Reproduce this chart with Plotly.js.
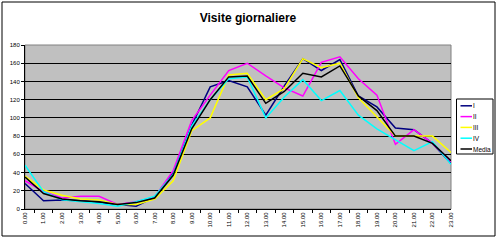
<!DOCTYPE html>
<html>
<head>
<meta charset="utf-8">
<script src="https://cdn.plot.ly/plotly-3.0.1.min.js"></script>
<style>html,body{margin:0;padding:0;background:#fff}#chart{width:500px;height:241px}</style>
</head>
<body>
<div id="chart"></div>
<script>
const hours = ["0.00","1.00","2.00","3.00","4.00","5.00","6.00","7.00","8.00","9.00","10.00","11.00","12.00","13.00","14.00","15.00","16.00","17.00","18.00","19.00","20.00","21.00","22.00","23.00"];
const seriesNames = ["I","II","III","IV","Media"];
const serieI  = [28, 9, 10, 9, 7, 5, 3, 13, 40, 92, 134, 141, 134, 103, 135, 165, 152, 164, 124, 112, 89, 87, 72, 50];
const serieII = [31, 19, 12, 14, 14, 5, 8, 13, 42, 97, 125, 152, 160, 146, 133, 124, 161, 167, 143, 125, 71, 87, 72, 52];
const serieIII= [36, 21, 15, 11, 10, 5, 5, 11, 31, 86, 100, 147, 149, 120, 132, 165, 155, 160, 122, 101, 80, 80, 80, 62];
const serieIV = [48, 19, 10, 8, 6, 3, 8, 14, 38, 91, 120, 143, 145, 100, 123, 142, 119, 130, 103, 88, 76, 64, 74, 49];
const media   = [35, 17, 11, 9, 8, 5, 7, 12, 37, 88, 120, 145, 146, 116, 129, 149, 145, 157, 124, 108, 80, 80, 72, 53];
const yTicks = [0,20,40,60,80,100,120,140,160,180];

const colors = ["#000080","#FF00FF","#FFFF00","#00FFFF","#000000"];
const allSeries = [serieI, serieII, serieIII, serieIV, media];

const traces = allSeries.map((s, i) => ({
  x: hours, y: s, name: seriesNames[i], type: "scatter", mode: "lines",
  line: {color: colors[i], width: 1.5}, showlegend: false
}));

// plot area geometry in px (for legend placement in paper coords)
const W = 500, H = 241, mL = 25, mR = 49, mT = 45, mB = 32;
const pw = W - mL - mR, ph = H - mT - mB;
const px2x = p => (p - mL) / pw;
const py2y = p => (H - mB - p) / ph;

const shapes = [
  {type: "rect", xref: "paper", yref: "paper", x0: px2x(2), x1: px2x(495), y0: py2y(236), y1: py2y(2),
   line: {color: "#000", width: 1}, fillcolor: "rgba(0,0,0,0)", layer: "below"},
  {type: "rect", xref: "paper", yref: "paper", x0: 0, x1: 1, y0: 0, y1: 1,
   line: {color: "#808080", width: 1}, fillcolor: "rgba(0,0,0,0)", layer: "below"},
  {type: "rect", xref: "paper", yref: "paper", x0: px2x(456.5), x1: px2x(493), y0: py2y(154), y1: py2y(99),
   line: {color: "#000", width: 1}, fillcolor: "#fff", layer: "above"}
];
const annotations = [];
seriesNames.forEach((n, i) => {
  const py = 105.8 + 10.8 * i;
  shapes.push({type: "line", xref: "paper", yref: "paper", x0: px2x(460.5), x1: px2x(472), y0: py2y(py), y1: py2y(py),
               line: {color: colors[i], width: 1.5}, layer: "above"});
  annotations.push({xref: "paper", yref: "paper", x: px2x(472.3), y: py2y(py), xanchor: "left", yanchor: "middle",
                    text: n, showarrow: false, borderpad: 0, font: {size: 6.5, color: "#000"}});
});

const layout = {
  width: W, height: H,
  margin: {l: mL, r: mR, t: mT, b: mB, pad: 0},
  paper_bgcolor: "#ffffff",
  plot_bgcolor: "#C0C0C0",
  font: {family: "Liberation Sans, Arial, sans-serif", size: 7, color: "#000"},
  title: {text: "<b>Visite giornaliere</b>", x: 0.496, xanchor: "center", y: 0.925, yanchor: "middle",
          font: {size: 12, family: "Liberation Sans, Arial, sans-serif", color: "#000"}},
  showlegend: false,
  xaxis: {type: "category", tickvals: hours, ticktext: hours, tickangle: -90,
          ticks: "outside", ticklen: 3, tickcolor: "#000", tickson: "boundaries",
          showline: true, linecolor: "#000", linewidth: 1, showgrid: false,
          tickfont: {size: 6}, fixedrange: true, automargin: false},
  yaxis: {range: [0, 180], tickvals: yTicks, ticks: "outside", ticklen: 3, tickcolor: "#000",
          showline: true, linecolor: "#000", linewidth: 1,
          showgrid: true, gridcolor: "#000", gridwidth: 1, zeroline: false,
          tickfont: {size: 6}, fixedrange: true, automargin: false},
  shapes: shapes,
  annotations: annotations
};

Plotly.newPlot("chart", traces, layout, {staticPlot: true, displayModeBar: false});
</script>
</body>
</html>
